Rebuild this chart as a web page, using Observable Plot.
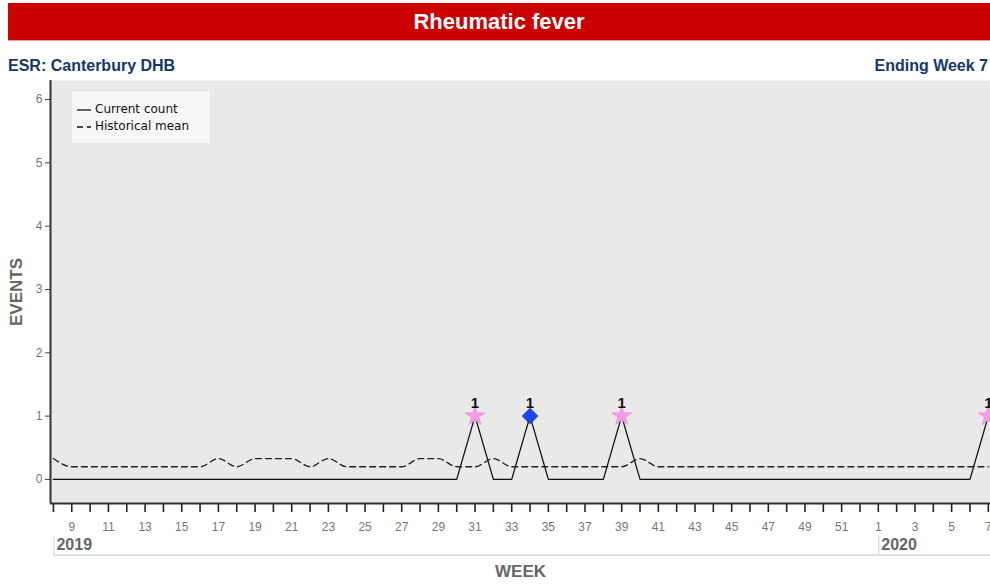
<!DOCTYPE html>
<html>
<head>
<meta charset="utf-8">
<script src="https://cdn.jsdelivr.net/npm/d3@7"></script>
<script src="https://cdn.jsdelivr.net/npm/@observablehq/plot@0.6"></script>
<style>
  html, body { margin: 0; padding: 0; background: #fff; }
  #page { position: relative; width: 990px; height: 584px; overflow: hidden; font-family: "Liberation Sans", Arial, sans-serif; }
  #titlebar { position: absolute; left: 8px; top: 3px; width: 982px; height: 37px; background: #cc0000; border-bottom: 1px solid #f0a0a0;
    color: #fff; font: bold 22px "Liberation Sans", Arial, sans-serif; text-align: center; line-height: 37px; }
  .sub { position: absolute; top: 57px; font: bold 16px "Liberation Sans", Arial, sans-serif; color: #14386a; }
  #chart { position: absolute; left: 0; top: 80px; }
  #legend { position: absolute; left: 72px; top: 91px; width: 138px; height: 52px; background: #f7f7f7;
    font: 12px "DejaVu Sans", Verdana, sans-serif; color: #111; }
  #legend .row { position: absolute; left: 5px; height: 16px; line-height: 16px; }
  #legend svg { vertical-align: middle; margin-right: 4px; }
</style>
</head>
<body>
<div id="page">
  <div id="titlebar">Rheumatic fever</div>
  <div class="sub" style="left:8px">ESR: Canterbury DHB</div>
  <div class="sub" style="right:2px">Ending Week 7</div>
  <div id="chart"></div>
  <div id="legend">
    <div class="row" style="top:10px"><svg width="14" height="4"><line x1="0" x2="14" y1="2" y2="2" stroke="#111" stroke-width="1.3"/></svg>Current count</div>
    <div class="row" style="top:27px"><svg width="14" height="4"><line x1="0" x2="14" y1="2" y2="2" stroke="#111" stroke-width="1.3" stroke-dasharray="6,4"/></svg>Historical mean</div>
  </div>
</div>
<script>
// ---- data ----
const weekLabels = [8,9,10,11,12,13,14,15,16,17,18,19,20,21,22,23,24,25,26,27,28,29,30,31,32,33,34,35,36,37,38,39,40,41,42,43,44,45,46,47,48,49,50,51,52,1,2,3,4,5,6,7];
const weekYears  = [2019,2019,2019,2019,2019,2019,2019,2019,2019,2019,2019,2019,2019,2019,2019,2019,2019,2019,2019,2019,2019,2019,2019,2019,2019,2019,2019,2019,2019,2019,2019,2019,2019,2019,2019,2019,2019,2019,2019,2019,2019,2019,2019,2019,2019,2020,2020,2020,2020,2020,2020,2020];
const currentCount = [0,0,0,0,0,0,0,0,0,0,0,0,0,0,0,0,0,0,0,0,0,0,0,1,0,0,1,0,0,0,0,1,0,0,0,0,0,0,0,0,0,0,0,0,0,0,0,0,0,0,0,1];
const historicalMean = [0.33,0.2,0.2,0.2,0.2,0.2,0.2,0.2,0.2,0.33,0.2,0.33,0.33,0.33,0.2,0.33,0.2,0.2,0.2,0.2,0.33,0.33,0.2,0.2,0.33,0.2,0.2,0.2,0.2,0.2,0.2,0.2,0.33,0.2,0.2,0.2,0.2,0.2,0.2,0.2,0.2,0.2,0.2,0.2,0.2,0.2,0.2,0.2,0.2,0.2,0.2,0.2];
const flagWeeks = [31, 34, 39, 7];
const flagYears = [2019, 2019, 2019, 2020];
const flagTypes = ["star", "diamond", "star", "star"];
const yearLabels = ["2019", "2020"];
const yTicks = [0,1,2,3,4,5,6];

// ---- build tables ----
const rows = weekLabels.map((w, i) => ({i, week: w, year: weekYears[i], count: currentCount[i], mean: historicalMean[i]}));
const flags = flagWeeks.map((w, k) => {
  const i = rows.findIndex(r => r.week === w && r.year === flagYears[k]);
  return {i, count: currentCount[i], type: flagTypes[k]};
});
const yearStarts = yearLabels.map(y => rows.findIndex(r => String(r.year) === y));
const oddIdx = rows.filter(r => r.i % 2 === 1).map(r => r.i);

const chart = Plot.plot({
  width: 990,
  height: 504,
  marginLeft: 50,
  marginRight: 0,
  marginTop: 0,
  marginBottom: 81,
  style: {fontFamily: "Liberation Sans, Arial, sans-serif", background: "transparent", overflow: "visible"},
  x: {domain: [-0.16, 51.12]},
  y: {domain: [-0.38, 6.3]},
  marks: [
    Plot.frame({fill: "#e9e9e9", stroke: null}),
    Plot.axisY(yTicks, {tickSize: 5, tickPadding: 3, tickFormat: d => String(d), fontSize: 12, color: "#777", stroke: "#444",
      label: "EVENTS", labelAnchor: "center", labelOffset: 41, labelArrow: "none"}),
    Plot.axisX(rows.map(r => r.i), {tickSize: 9, tickFormat: () => "", stroke: "#222", strokeWidth: 1.6, label: null}),
    Plot.axisX(oddIdx, {tickSize: 0, tickPadding: 19, tickFormat: i => String(weekLabels[i]), fontSize: 12, color: "#777", label: null}),
    Plot.axisX(yearStarts, {tickSize: 0, tickPadding: 35, tickFormat: (i, k) => yearLabels[k], textAnchor: "start", dx: 3,
      fontSize: 16, fontWeight: "bold", color: "#666", label: null}),
    Plot.axisX([], {label: "WEEK", labelAnchor: "center", labelOffset: 73, labelArrow: "none", tickSize: 0}),
    Plot.ruleX([-0.16], {stroke: "#333", strokeWidth: 2}),
    Plot.ruleY([-0.38], {stroke: "#333", strokeWidth: 2}),
    Plot.line(rows, {x: "i", y: "mean", stroke: "#222", strokeWidth: 1.3, strokeDasharray: "6,4", curve: "monotone-x"}),
    Plot.line(rows, {x: "i", y: "count", stroke: "#111", strokeWidth: 1.3}),
    Plot.dot(flags.filter(d => d.type === "star"), {x: "i", y: "count", symbol: "star", r: 6.3, fill: "#f59be2", stroke: "#f080d8", strokeWidth: 0.5}),
    Plot.dot(flags.filter(d => d.type === "diamond"), {x: "i", y: "count", symbol: "diamond2", r: 7.2, fill: "#1f46e8", stroke: "#1430b0", strokeWidth: 0.5}),
    Plot.text(flags, {x: "i", y: "count", text: d => String(d.count), dy: -13, fontSize: 15, fontWeight: "bold", fill: "#111"})
  ]
});
document.getElementById("chart").appendChild(chart);

// year band borders (decoration) positioned with the plot's x scale
const sx = chart.scale("x");
const svg = d3.select(chart);
const bandTop = 456, bandBottom = 475;
svg.append("line").attr("x1", sx.apply(yearStarts[0])).attr("x2", 990).attr("y1", bandBottom).attr("y2", bandBottom).attr("stroke", "#e2e2e2").attr("stroke-width", 2);
yearStarts.forEach(i => {
  svg.append("line").attr("x1", sx.apply(i) + 1).attr("x2", sx.apply(i) + 1).attr("y1", bandTop).attr("y2", bandBottom).attr("stroke", "#e2e2e2").attr("stroke-width", 1.5);
});
// style axis labels
svg.selectAll("[aria-label='y-axis label'] text, [aria-label='x-axis label'] text")
  .attr("font-size", 17).attr("font-weight", "bold").attr("fill", "#666");
</script>
</body>
</html>
